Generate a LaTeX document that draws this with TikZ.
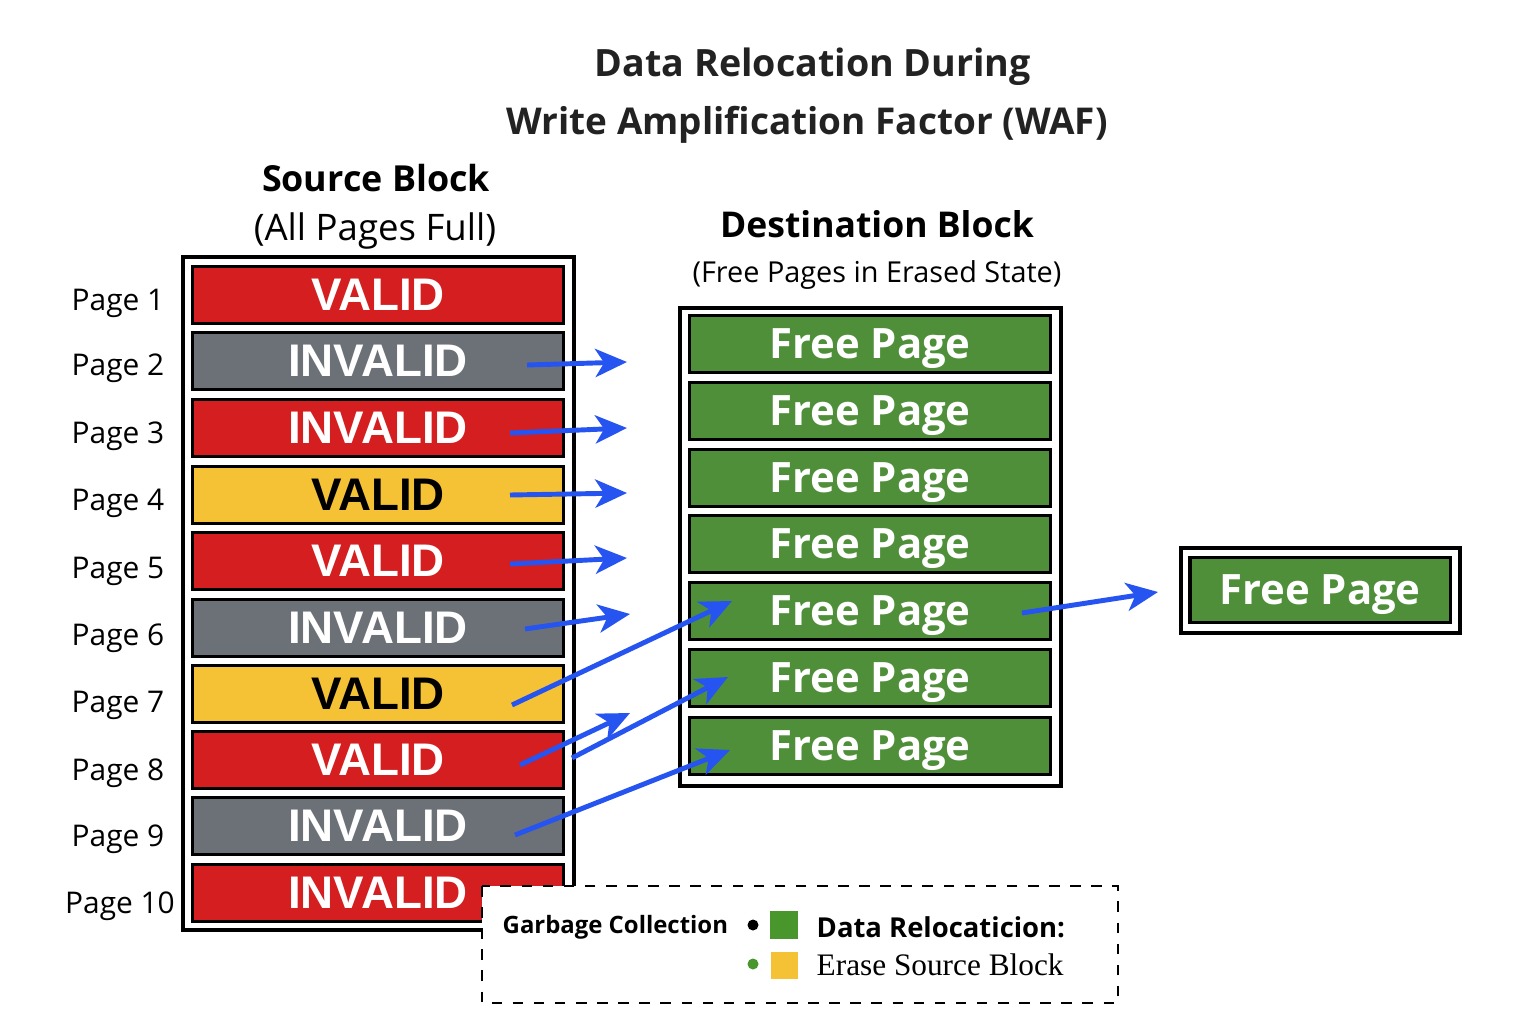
\documentclass[tikz,border=0pt]{standalone}
\usepackage{fontspec}
\setsansfont{Open Sans}
\newfontfamily\barfont{Liberation Sans}
\newfontfamily\legserif{Liberation Serif}
\usetikzlibrary{arrows.meta}

\definecolor{validred}{RGB}{212,30,32}
\definecolor{invgray}{RGB}{108,113,120}
\definecolor{validyellow}{RGB}{245,194,54}
\definecolor{freegreen}{RGB}{79,143,58}
\definecolor{leggreen}{RGB}{72,150,44}
\definecolor{relocblue}{RGB}{38,84,240}
\definecolor{titlegray}{RGB}{34,34,34}

\tikzset{
  srcpage/.style={draw=black,line width=0.9pt,minimum width=3.7cm,minimum height=0.57cm,inner sep=0pt,text depth=0pt,font=\barfont\bfseries\fontsize{13}{13}\selectfont,text=white},
  dstpage/.style={draw=black,line width=0.9pt,fill=freegreen,minimum width=3.6cm,minimum height=0.57cm,inner sep=0pt,text depth=0pt,font=\sffamily\bfseries\fontsize{11.9}{11.9}\selectfont,text=white},
  blockbox/.style={draw=black,line width=0.9pt},
  pagelabel/.style={anchor=base,font=\sffamily\fontsize{8.5}{8.5}\selectfont},
  move/.style={draw=relocblue,line width=1.4pt,-{Stealth[length=9pt,width=8pt,inset=2.5pt]}}
}

\begin{document}
\begin{tikzpicture}[x=0.01cm,y=-0.01cm]
  \useasboundingbox[fill=white] (0,0) rectangle (1536,1024);

  % title
  \node[anchor=base,text=titlegray,font=\sffamily\bfseries\fontsize{10.7}{10.7}\selectfont] (title1) at (813,77) {Data Relocation During};
  \node[anchor=base,text=titlegray,font=\sffamily\bfseries\fontsize{10.5}{10.5}\selectfont] (title2) at (807,134) {Write Amplification Factor (WAF)};

  % source block
  \node[anchor=base,font=\sffamily\bfseries\fontsize{10.2}{10.2}\selectfont] (srchead) at (376,191) {Source Block};
  \node[anchor=base,font=\sffamily\fontsize{10.4}{10.4}\selectfont] (srcsub) at (375,240) {(All Pages Full)};
  \draw[blockbox] (183,257) rectangle (574,930);

  \node[srcpage,fill=validred] (s1) at (378,295) {VALID};
  \node[srcpage,fill=invgray] (s2) at (378,361) {INVALID};
  \node[srcpage,fill=validred] (s3) at (378,428) {INVALID};
  \node[srcpage,fill=validyellow,text=black] (s4) at (378,495) {VALID};
  \node[srcpage,fill=validred] (s5) at (378,561) {VALID};
  \node[srcpage,fill=invgray] (s6) at (378,628) {INVALID};
  \node[srcpage,fill=validyellow,text=black] (s7) at (378,694) {VALID};
  \node[srcpage,fill=validred] (s8) at (378,760) {VALID};
  \node[srcpage,fill=invgray] (s9) at (378,826) {INVALID};
  \node[srcpage,fill=validred] (s10) at (378,893) {INVALID};

  \node[pagelabel] (p1) at (118,310) {Page 1};
  \node[pagelabel] (p2) at (118,375) {Page 2};
  \node[pagelabel] (p3) at (118,443) {Page 3};
  \node[pagelabel] (p4) at (118,510) {Page 4};
  \node[pagelabel] (p5) at (118,578) {Page 5};
  \node[pagelabel] (p6) at (118,645) {Page 6};
  \node[pagelabel] (p7) at (118,712) {Page 7};
  \node[pagelabel] (p8) at (118,780) {Page 8};
  \node[pagelabel] (p9) at (118,846) {Page 9};
  \node[pagelabel] (p10) at (120,913) {Page 10};

  % destination block
  \node[anchor=base,font=\sffamily\bfseries\fontsize{10.1}{10.1}\selectfont] (dsthead) at (877,237) {Destination Block};
  \node[anchor=base,font=\sffamily\fontsize{8.2}{8.2}\selectfont] (dstsub) at (877,282) {(Free Pages in Erased State)};
  \draw[blockbox] (680,308) rectangle (1061,786);

  \node[dstpage] (d1) at (870,344) {Free Page};
  \node[dstpage] (d2) at (870,411) {Free Page};
  \node[dstpage] (d3) at (870,478) {Free Page};
  \node[dstpage] (d4) at (870,544) {Free Page};
  \node[dstpage] (d5) at (870,611) {Free Page};
  \node[dstpage] (d6) at (870,678) {Free Page};
  \node[dstpage] (d7) at (870,746) {Free Page};

  % spare block
  \draw[blockbox] (1181,548) rectangle (1460,633);
  \node[dstpage,minimum width=2.6cm,minimum height=0.65cm] (spare) at (1320,590) {Free Page};

  % relocation arrows
  \coordinate (m2) at (527,365);  \coordinate (m2e) at (627,362);
  \coordinate (m3) at (510,433);  \coordinate (m3e) at (627,428);
  \coordinate (m4) at (510,495);  \coordinate (m4e) at (627,493);
  \coordinate (m5) at (510,564);  \coordinate (m5e) at (627,558);
  \coordinate (m6) at (525,629);  \coordinate (m6e) at (630,614);
  \coordinate (m7) at (512,705);  \coordinate (m7e) at (732,601);
  \coordinate (m8) at (520,765);  \coordinate (m8e) at (630,713);
  \coordinate (m8b) at (572,758); \coordinate (m8be) at (728,677);
  \coordinate (m9) at (515,835);  \coordinate (m9e) at (730,750);
  \coordinate (mx) at (1022,613); \coordinate (mxe) at (1158,592);

  \draw[move] (m2) -- (m2e);
  \draw[move] (m3) -- (m3e);
  \draw[move] (m4) -- (m4e);
  \draw[move] (m5) -- (m5e);
  \draw[move] (m6) -- (m6e);
  \draw[move] (m7) -- (m7e);
  \draw[move] (m8) -- (m8e);
  \draw[move] (m8b) -- (m8be);
  \draw[move] (m9) -- (m9e);
  \draw[move] (mx) -- (mxe);

  % legend
  \draw[dashed,line width=0.6pt,fill=white] (482,886) rectangle (1118,1003);
  \node[anchor=base west,inner sep=0pt,font=\sffamily\bfseries\fontsize{6.8}{6.8}\selectfont] (gc) at (502,933) {Garbage Collection};
  \fill[black] (753,925) circle [radius=5.5];
  \node[fill=leggreen,minimum size=0.28cm,inner sep=0pt] (kgreen) at (784,925) {};
  \node[anchor=base west,inner sep=0pt,font=\sffamily\bfseries\fontsize{7.8}{7.8}\selectfont] (kreloc) at (816,937) {Data Relocaticion:};
  \fill[leggreen] (753,964) circle [radius=5.5];
  \node[fill=validyellow,minimum size=0.27cm,inner sep=0pt] (kyellow) at (784,965) {};
  \node[anchor=base west,inner sep=0pt,font=\legserif\fontsize{8.9}{8.9}\selectfont] (kerase) at (816,975) {Erase Source Block};
\end{tikzpicture}
\end{document}
